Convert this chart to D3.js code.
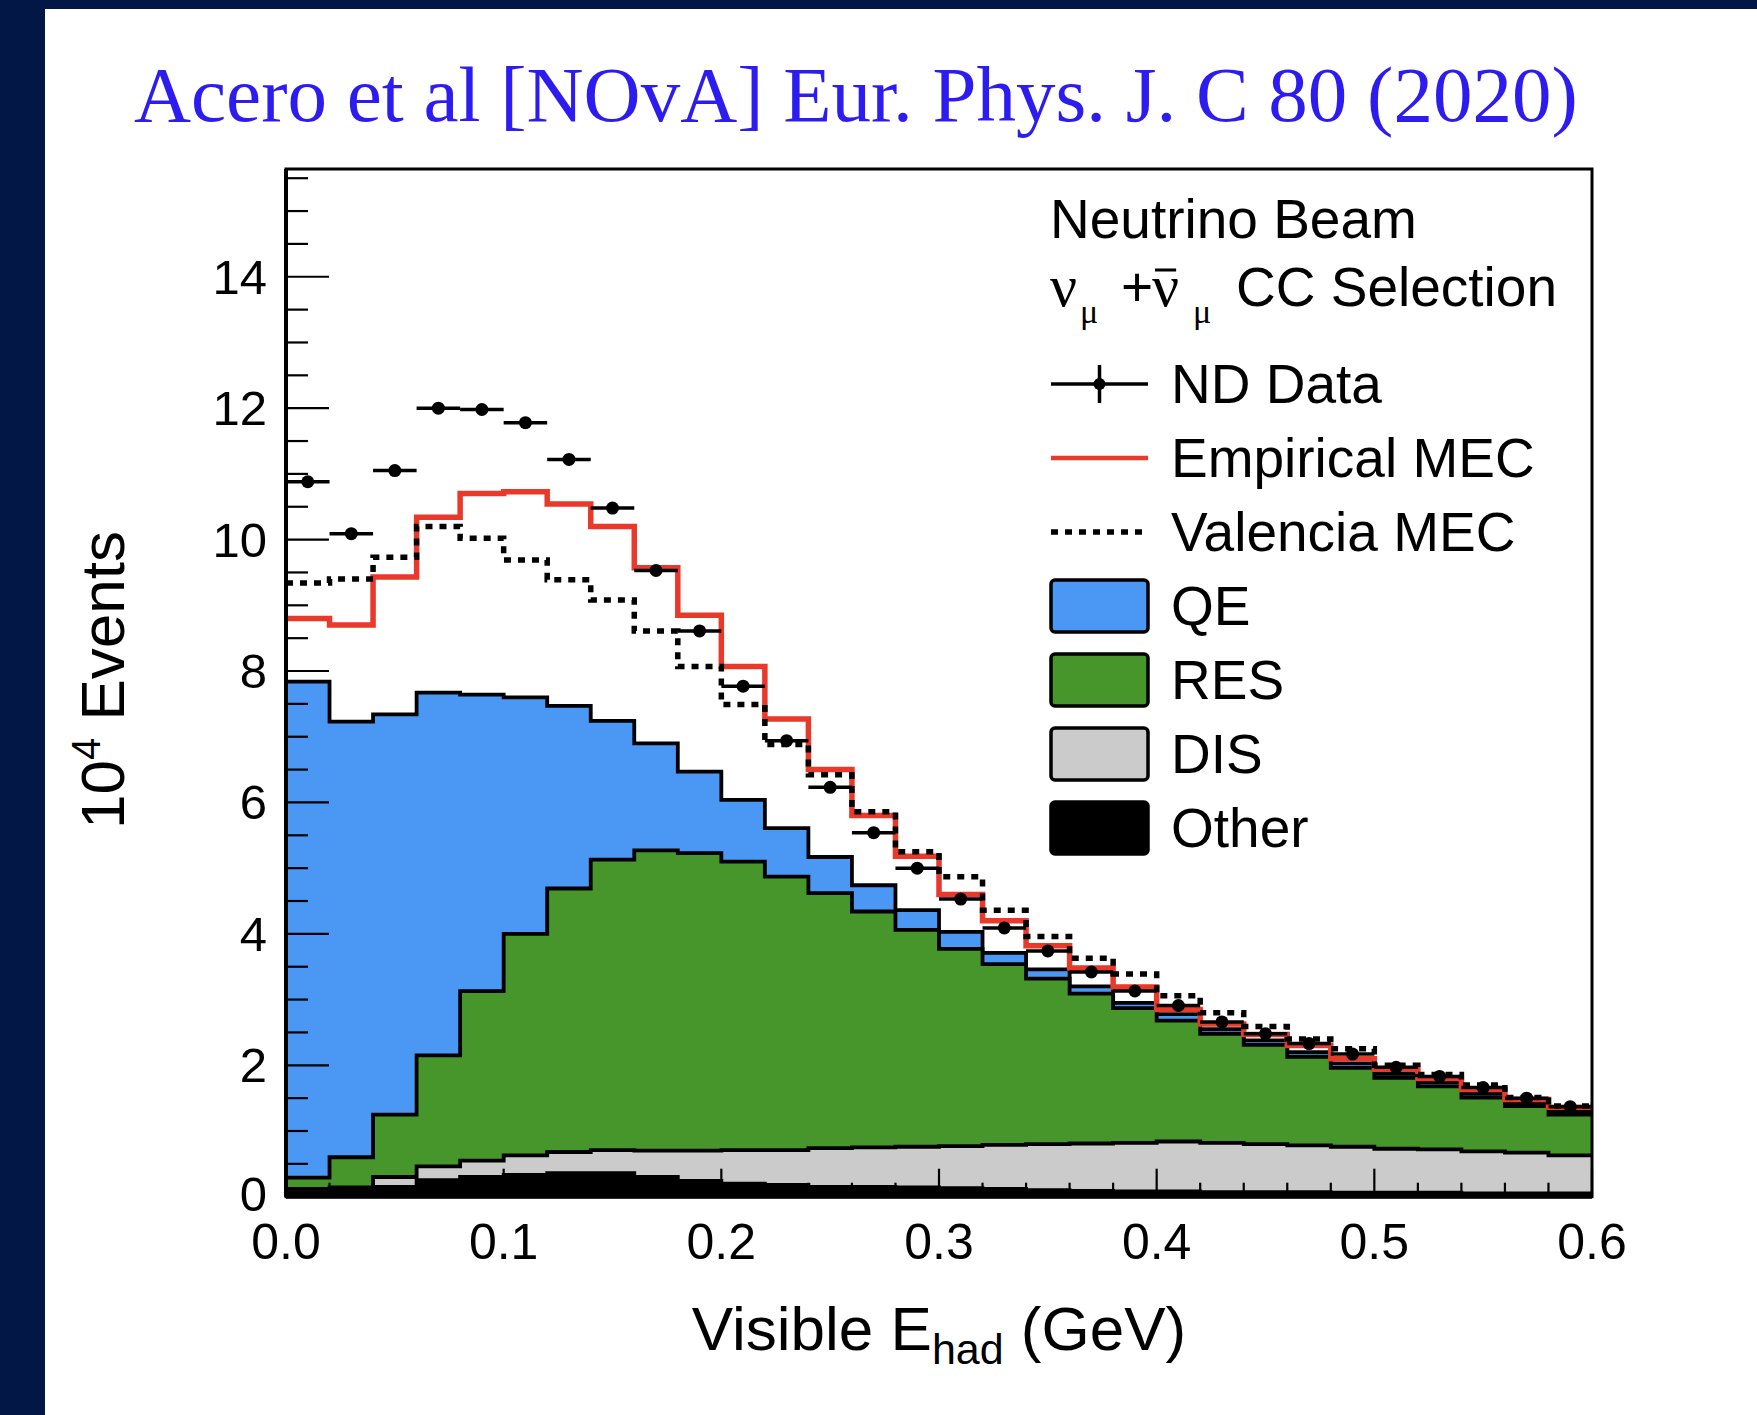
<!DOCTYPE html>
<html><head><meta charset="utf-8">
<script src="https://cdn.jsdelivr.net/npm/d3@7"></script>
<style>
html,body{margin:0;padding:0;background:#021745;}
svg{display:block}
</style></head><body>
<svg id="c" width="1757" height="1415"></svg>
<script>
// Visible hadronic energy, 30 bins of 0.02 GeV, in units of 10^4 events
const binLow = 0.0, binWidth = 0.02;
const other = [0.07,0.10,0.15,0.25,0.30,0.33,0.36,0.36,0.30,0.24,0.20,0.18,0.15,0.15,0.14,0.13,0.12,0.10,0.09,0.08,0.08,0.07,0.07,0.07,0.06,0.06,0.06,0.05,0.05,0.05];
const dis   = [0.05,0.04,0.15,0.21,0.25,0.30,0.32,0.35,0.40,0.46,0.51,0.53,0.59,0.60,0.62,0.64,0.67,0.70,0.72,0.74,0.76,0.75,0.73,0.71,0.70,0.67,0.66,0.64,0.62,0.58];
const res   = [0.17,0.46,0.95,1.69,2.58,3.37,4.01,4.42,4.57,4.53,4.39,4.16,3.88,3.59,3.30,3.00,2.75,2.52,2.28,2.05,1.84,1.66,1.51,1.35,1.20,1.08,0.96,0.82,0.71,0.62];
const qe    = [7.55,6.63,6.09,5.52,4.51,3.60,2.78,2.11,1.63,1.24,0.94,0.74,0.55,0.40,0.30,0.26,0.17,0.14,0.11,0.08,0.10,0.07,0.07,0.07,0.07,0.06,0.06,0.06,0.05,0.05];
const empiricalMEC = [8.80,8.70,9.43,10.34,10.70,10.73,10.54,10.20,9.57,8.85,8.07,7.27,6.50,5.80,5.18,4.60,4.20,3.82,3.48,3.19,2.85,2.63,2.47,2.30,2.10,1.94,1.80,1.63,1.48,1.36];
const valenciaMEC  = [9.34,9.40,9.73,10.20,10.02,9.69,9.39,9.08,8.61,8.07,7.49,6.88,6.42,5.86,5.25,4.87,4.36,3.96,3.63,3.39,3.06,2.80,2.59,2.40,2.25,2.00,1.86,1.70,1.51,1.38];
const ndData       = [10.88,10.09,11.05,12.00,11.98,11.78,11.22,10.48,9.53,8.61,7.77,6.94,6.23,5.54,5.00,4.53,4.09,3.74,3.42,3.13,2.91,2.66,2.48,2.33,2.17,1.97,1.83,1.66,1.50,1.37];

const componentKeys  = ["other","dis","res","qe"];
const legendLabels   = ["ND Data","Empirical MEC","Valencia MEC","QE","RES","DIS","Other"];
const xTickLabels    = ["0.0","0.1","0.2","0.3","0.4","0.5","0.6"];
const yTickLabels    = ["0","2","4","6","8","10","12","14"];
const titleText      = "Acero et al [NOvA] Eur. Phys. J. C 80 (2020)";

const colors = {qe:"#4a97f4", res:"#46962b", dis:"#cbcbcb", other:"#000000", red:"#e8392b"};
const SANS = "'Liberation Sans', Arial, Helvetica, sans-serif";
const SERIF = "'Liberation Serif', 'Times New Roman', serif";

const svg = d3.select("#c");
// white slide panel
svg.append("rect").attr("x",45).attr("y",9).attr("width",1757-45).attr("height",1415-9).attr("fill","#fff");

svg.append("text").attr("x",134).attr("y",121)
  .style("font-family",SERIF).style("font-size","79px").attr("fill","#2d1cf0")
  .text(titleText);

const x = d3.scaleLinear().domain([0,0.6]).range([286,1592]);
const y = d3.scaleLinear().domain([0,15.64]).range([1196.7,169]);

const nBins = qe.length;
const rows = d3.range(nBins).map(i => ({lo: binLow + i*binWidth, other:other[i], dis:dis[i], res:res[i], qe:qe[i]}));
const stacked = d3.stack().keys(componentKeys)(rows);

function stepPoints(vals){
  const p = vals.map((v,i)=>[binLow + i*binWidth, v]);
  p.push([binLow + vals.length*binWidth, vals[vals.length-1]]);
  return p;
}
const stepLine = d3.line().x(d=>x(d[0])).y(d=>y(d[1])).curve(d3.curveStepAfter);
const stepArea = d3.area().x(d=>x(d[0])).y0(d=>y(d[1])).y1(d=>y(d[2])).curve(d3.curveStepAfter);

const plot = svg.append("g");
// draw stack from top layer down so outlines stay visible
for (let k = stacked.length-1; k >= 0; k--){
  const layer = stacked[k];
  const pts = layer.map((s,i)=>[binLow+i*binWidth, 0, s[1]]);
  pts.push([binLow+nBins*binWidth, 0, layer[nBins-1][1]]);
  plot.append("path").attr("d", stepArea(pts)).attr("fill", colors[componentKeys[k]]);
  plot.append("path").attr("d", stepLine(pts.map(p=>[p[0],p[2]])))
    .attr("fill","none").attr("stroke","#000").attr("stroke-width",3.8);
}

plot.append("path").attr("d", stepLine(stepPoints(empiricalMEC)))
  .attr("fill","none").attr("stroke",colors.red).attr("stroke-width",5.5);
plot.append("path").attr("d", stepLine(stepPoints(valenciaMEC)))
  .attr("fill","none").attr("stroke","#000").attr("stroke-width",5.5).attr("stroke-dasharray","7 7");

const pts = plot.append("g");
ndData.forEach((v,i)=>{
  const lo = binLow + i*binWidth, mid = lo + binWidth/2;
  pts.append("line").attr("x1",x(lo)).attr("x2",x(lo+binWidth)).attr("y1",y(v)).attr("y2",y(v))
    .attr("stroke","#000").attr("stroke-width",3.5);
  pts.append("circle").attr("cx",x(mid)).attr("cy",y(v)).attr("r",6.5).attr("fill","#000");
});

// axes: ticks point into the frame
const ax = svg.append("g");
d3.range(0, 15.6, 0.5).forEach(v=>{
  const major = Math.abs(v/2 - Math.round(v/2)) < 1e-6;
  ax.append("line").attr("x1",x(0)).attr("x2",x(0)+(major?43:22)).attr("y1",y(v)).attr("y2",y(v))
    .attr("stroke","#000").attr("stroke-width",2.2);
});
d3.range(0, 0.6001, 0.02).forEach((v,i)=>{
  const major = i%5===0;
  ax.append("line").attr("x1",x(v)).attr("x2",x(v)).attr("y1",y(0)).attr("y2",y(0)-(major?28:14))
    .attr("stroke","#000").attr("stroke-width",2.2);
});
ax.append("rect").attr("x",x(0)).attr("y",y(15.64)).attr("width",x(0.6)-x(0)).attr("height",y(0)-y(15.64))
  .attr("fill","none").attr("stroke","#000").attr("stroke-width",3);
ax.append("line").attr("x1",x(0)).attr("x2",x(0)).attr("y1",y(15.64)).attr("y2",y(0)).attr("stroke","#000").attr("stroke-width",4);
ax.append("line").attr("x1",x(0)).attr("x2",x(0.6)).attr("y1",y(0)).attr("y2",y(0)).attr("stroke","#000").attr("stroke-width",4);

yTickLabels.forEach((t,i)=>{
  ax.append("text").attr("x",267).attr("y",y(i*2)+(i===0?14:17)).attr("text-anchor","end")
    .style("font-family",SANS).style("font-size","49px").text(t);
});
xTickLabels.forEach((t,i)=>{
  ax.append("text").attr("x",x(i*0.1)).attr("y",1259).attr("text-anchor","middle")
    .style("font-family",SANS).style("font-size","50px").text(t);
});

// axis titles
const xt = svg.append("text").attr("x",(x(0)+x(0.6))/2).attr("y",1350).attr("text-anchor","middle")
  .style("font-family",SANS).style("font-size","62px");
xt.append("tspan").text("Visible E");
xt.append("tspan").attr("dy",14).style("font-size","43px").text("had");
xt.append("tspan").attr("dy",-14).text(" (GeV)");

const yt = svg.append("text").attr("transform","translate(124,680) rotate(-90)").attr("text-anchor","middle")
  .style("font-family",SANS).style("font-size","62px");
yt.append("tspan").text("10");
yt.append("tspan").attr("dy",-24).style("font-size","40px").text("4");
yt.append("tspan").attr("dy",24).text(" Events");

// legend
const lg = svg.append("g");
lg.append("text").attr("x",1050).attr("y",238).style("font-family",SANS).style("font-size","55px").text("Neutrino Beam");

// header line: nu_mu + nubar_mu CC Selection, each run placed at its own x
function run(xs, ys, p){
  const t = lg.append("text").attr("x",xs).attr("y",ys+(p.dy||0))
    .style("font-family",p.family).style("font-size",p.size+"px").text(p.text);
  const w = t.node().getComputedTextLength();
  if (p.bar) lg.append("line").attr("x1",xs+3).attr("x2",xs+w-3).attr("y1",ys-0.6*p.size).attr("y2",ys-0.6*p.size)
    .attr("stroke","#000").attr("stroke-width",3);
}
const hy = 306;
run(1050, hy, {text:"\u03bd", family:SERIF, size:60});
run(1080, hy, {text:"\u03bc", family:SERIF, size:34, dy:17});
run(1121, hy, {text:"+", family:SANS, size:55});
run(1152, hy, {text:"\u03bd", family:SERIF, size:60, bar:true});
run(1193, hy, {text:"\u03bc", family:SERIF, size:34, dy:17});
run(1236, hy, {text:"CC Selection", family:SANS, size:55});

const rowY = [384, 458, 532, 606, 680, 754, 828];
const symX0 = 1051, symX1 = 1148, textX = 1171;
legendLabels.forEach((lab,i)=>{
  lg.append("text").attr("x",textX).attr("y",rowY[i]+19).style("font-family",SANS).style("font-size","55px").text(lab);
});
lg.append("line").attr("x1",symX0).attr("x2",symX1).attr("y1",rowY[0]).attr("y2",rowY[0]).attr("stroke","#000").attr("stroke-width",3.5);
lg.append("line").attr("x1",(symX0+symX1)/2).attr("x2",(symX0+symX1)/2).attr("y1",rowY[0]-19).attr("y2",rowY[0]+19).attr("stroke","#000").attr("stroke-width",3.5);
lg.append("circle").attr("cx",(symX0+symX1)/2).attr("cy",rowY[0]).attr("r",6).attr("fill","#000");
lg.append("line").attr("x1",symX0).attr("x2",symX1).attr("y1",rowY[1]).attr("y2",rowY[1]).attr("stroke",colors.red).attr("stroke-width",4.5);
lg.append("line").attr("x1",symX0).attr("x2",symX1-6).attr("y1",rowY[2]).attr("y2",rowY[2]).attr("stroke","#000").attr("stroke-width",5.5).attr("stroke-dasharray","7 7");
["qe","res","dis","other"].forEach((k,j)=>{
  lg.append("rect").attr("x",symX0).attr("y",rowY[3+j]-26).attr("width",symX1-symX0).attr("height",52)
    .attr("rx",4).attr("fill",colors[k]).attr("stroke","#000").attr("stroke-width",3.5);
});
</script>
</body></html>
